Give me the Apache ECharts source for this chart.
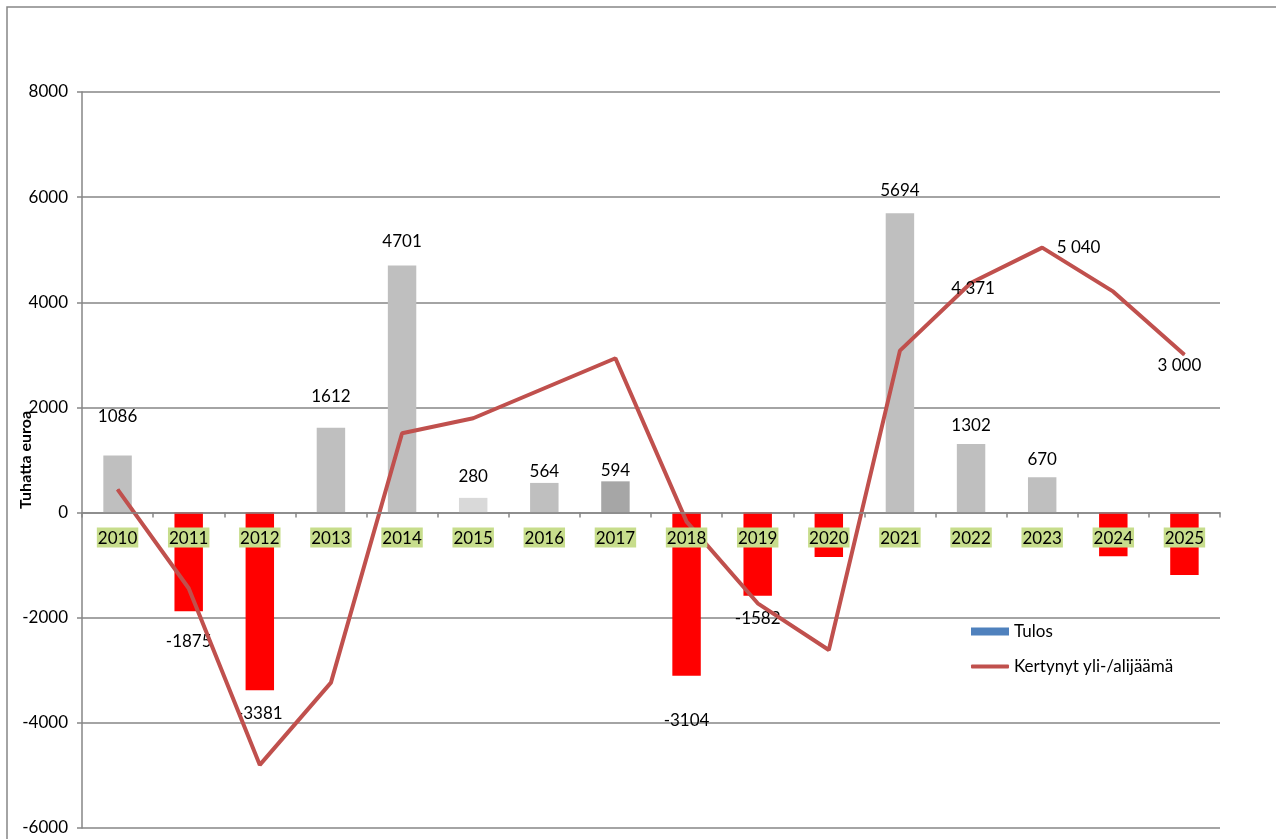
<!DOCTYPE html>
<html>
<head>
<meta charset="utf-8">
<script src="https://cdn.jsdelivr.net/npm/echarts@6/dist/echarts.min.js"></script>
<style>
html,body{margin:0;padding:0;background:#fff;}
#chart{width:1276px;height:839px;}
</style>
</head>
<body>
<div id="chart"></div>
<script>
// ---- data ----
const categories = ['2010','2011','2012','2013','2014','2015','2016','2017','2018','2019','2020','2021','2022','2023','2024','2025'];
const tulos = [1086, -1875, -3381, 1612, 4701, 280, 564, 594, -3104, -1582, -845, 5694, 1302, 670, -831, -1187];
const kertynyt = [440, -1440, -4800, -3235, 1508, 1794, 2365, 2935, -173, -1726, -2614, 3080, 4371, 5040, 4202, 3000];
const yTicks = { min: -6000, max: 8000, interval: 2000 };
const tulosName = 'Tulos';
const kertynytName = 'Kertynyt yli-/alijäämä';
const yAxisName = 'Tuhatta euroa';

// ---- styles (kept apart from data) ----
const FONT = 'Lato';
const posColor = '#BFBFBF';
const negColor = '#FF0000';
const specialColors = { '2015': '#D9D9D9', '2017': '#A6A6A6' };
const hiddenBarLabels = ['2020', '2024', '2025'];
const barLabelDistance = { '2010': 30, '2011': 22, '2012': 15, '2013': 23, '2014': 15, '2015': 13, '2016': 3, '2017': 2, '2018': 36, '2019': 14, '2021': 14, '2022': 10, '2023': 9 };
const lineLabelCfg = {
  '2022': { position: 'inside', offset: [2, 6] },
  '2023': { position: 'right', distance: 14 },
  '2025': { position: 'bottom', distance: 2, offset: [-5, 0] }
};
const fmtSpace = (v) => String(v).replace(/\B(?=(\d{3})+(?!\d))/g, ' ');

const barData = tulos.map((v, i) => {
  const y = categories[i];
  const color = specialColors[y] || (v < 0 ? negColor : posColor);
  return {
    value: v,
    itemStyle: { color: color },
    label: {
      show: hiddenBarLabels.indexOf(y) < 0,
      position: v < 0 ? 'bottom' : 'top',
      distance: barLabelDistance[y] || 5
    }
  };
});

const lineData = kertynyt.map((v, i) => {
  const y = categories[i];
  const cfg = lineLabelCfg[y];
  return {
    value: v,
    label: cfg ? Object.assign({ show: true }, cfg) : { show: false }
  };
});

const chart = echarts.init(document.getElementById('chart'), null, { renderer: 'canvas' });
chart.setOption({
  backgroundColor: '#ffffff',
  animation: false,
  textStyle: { fontFamily: FONT },
  graphic: [{
    type: 'rect',
    shape: { x: 7, y: 7, width: 1400, height: 1000 },
    style: { fill: 'none', stroke: '#868686', lineWidth: 1.5 },
    silent: true, z: -1
  }],
  grid: { left: 82, top: 92, right: 56, bottom: 11, containLabel: false, outerBoundsMode: 'none' },
  legend: [
    {
      orient: 'vertical',
      left: 966,
      top: 618,
      itemWidth: 38,
      itemHeight: 8,
      textStyle: { fontFamily: FONT, fontSize: 17, color: '#000' },
      data: [{ name: tulosName, icon: 'rect' }]
    },
    {
      orient: 'vertical',
      left: 966,
      top: 653,
      itemWidth: 38,
      itemHeight: 4,
      textStyle: { fontFamily: FONT, fontSize: 17, color: '#000' },
      data: [{ name: kertynytName, icon: 'roundRect' }]
    }
  ],
  xAxis: {
    type: 'category',
    data: categories,
    z: 10,
    position: 'bottom',
    offset: 0,
    axisLine: { onZero: false, lineStyle: { color: '#868686', width: 1.5 } },
    axisTick: { show: true, length: 5, alignWithLabel: false, lineStyle: { color: '#868686', width: 1.5 } },
    axisLabel: {
      margin: 15,
      fontFamily: FONT,
      fontSize: 17,
      color: '#000',
      backgroundColor: '#C7DD8C',
      padding: [2, 1, 1, 1]
    },
    splitLine: { show: false }
  },
  yAxis: {
    type: 'value',
    min: yTicks.min,
    max: yTicks.max,
    interval: yTicks.interval,
    name: yAxisName,
    nameLocation: 'middle',
    nameRotate: 90,
    nameGap: 48,
    nameMoveOverlap: false,
    nameTextStyle: { fontFamily: FONT, fontSize: 16, fontWeight: 'bold', color: '#000' },
    axisLine: { show: true, lineStyle: { color: '#868686', width: 1.5 } },
    axisTick: { show: true, length: 5, inside: false, lineStyle: { color: '#868686', width: 1.5 } },
    axisLabel: { margin: 14, fontFamily: FONT, fontSize: 17, color: '#000', formatter: (v) => String(v) },
    splitLine: { show: true, lineStyle: { color: '#868686', width: 1.5 } }
  },
  series: [
    {
      name: tulosName,
      type: 'bar',
      data: barData,
      barWidth: '40%',
      itemStyle: { color: '#4F81BD' },
      label: { fontFamily: FONT, fontSize: 17, color: '#000' },
      z: 2
    },
    {
      name: kertynytName,
      type: 'line',
      data: lineData,
      symbol: 'circle',
      symbolSize: 1,
      showSymbol: true,
      color: '#C0504D',
      itemStyle: { color: '#C0504D' },
      lineStyle: { color: '#C0504D', width: 4 },
      label: { fontFamily: FONT, fontSize: 17, color: '#000', formatter: (p) => fmtSpace(p.value) },
      z: 3
    }
  ]
});

// place the category axis on the value 0 of the y scale (computed by the library)
const zeroPx = chart.convertToPixel({ yAxisIndex: 0 }, 0);
const bottomPx = chart.convertToPixel({ yAxisIndex: 0 }, yTicks.min);
chart.setOption({ xAxis: { offset: zeroPx - bottomPx } });
</script>
</body>
</html>
